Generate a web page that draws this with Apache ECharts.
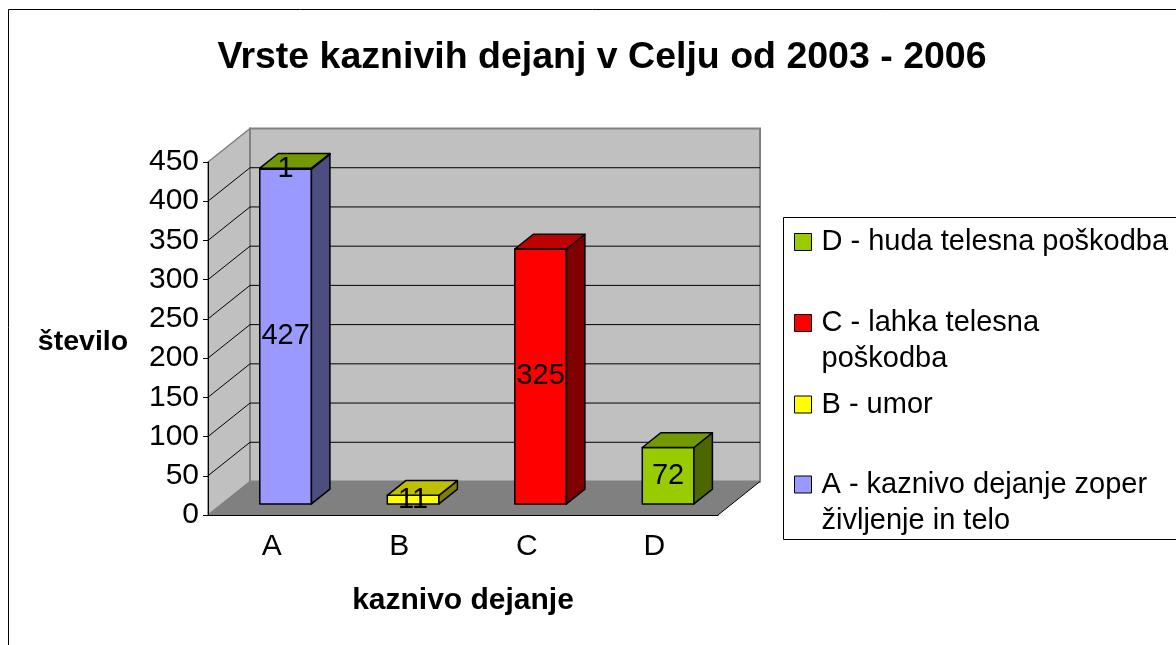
<!DOCTYPE html>
<html><head><meta charset="utf-8">
<script src="https://cdn.jsdelivr.net/npm/echarts@6/dist/echarts.min.js"></script>
<style>html,body{margin:0;padding:0;background:#fff}#c{width:1176px;height:645px}</style>
</head><body><div id="c"></div>
<script>
// ---- data ----
const categories = ['A', 'B', 'C', 'D'];
const seriesNames = ['A - kaznivo dejanje zoper\nživljenje in telo', 'B - umor', 'C - lahka telesna\npoškodba', 'D - huda telesna poškodba'];
const valuesA = [427, null, null, null];
const valuesB = [null, 11, null, null];
const valuesC = [null, null, 325, null];
const valuesD = [1, null, null, 72];
const yTicks = [0, 50, 100, 150, 200, 250, 300, 350, 400, 450];
const titleText = 'Vrste kaznivih dejanj v Celju od 2003 - 2006';
const yTitle = 'število';
const xTitle = 'kaznivo dejanje';

// ---- style ----
const FONT = '"Liberation Sans", Arial, sans-serif';
const DX = 42, DY = -33.5;      // full depth vector of the 3D box
const F0 = 0.33, F1 = 0.77;     // bar depth position (fraction)
const BAR_FRAC = 0.405;
const colors = [
  { front: '#9999ff', top: '#7373bf', side: '#4d4d80' },
  { front: '#ffff00', top: '#bfbf00', side: '#808000' },
  { front: '#ff0000', top: '#bf0000', side: '#800000' },
  { front: '#99cc00', top: '#739900', side: '#4d6600' }
];
const allValues = [valuesA, valuesB, valuesC, valuesD];

function buildData(si) {
  const out = [];
  allValues[si].forEach((v, ci) => {
    if (v == null) return;
    let base = 0;
    for (let k = 0; k < si; k++) base += allValues[k][ci] || 0;
    out.push([ci, base, v]);
  });
  return out;
}

function renderWalls(params, api) {
  const n = categories.length;
  const bw = api.size([1, 0])[0];
  const p0 = api.coord([0, yTicks[0]]);
  const left = p0[0] - bw / 2;
  const right = left + bw * n;
  const bottom = p0[1];
  const top = api.coord([0, yTicks[yTicks.length - 1]])[1];
  const ch = [];
  ch.push({ type: 'polygon', shape: { points: [[left, bottom], [left, top], [left + DX, top + DY], [left + DX, bottom + DY]] }, style: { fill: '#c0c0c0', stroke: '#808080', lineWidth: 1.5 } });
  ch.push({ type: 'polygon', shape: { points: [[left + DX, top + DY], [right + DX, top + DY], [right + DX, bottom + DY], [left + DX, bottom + DY]] }, style: { fill: '#c0c0c0', stroke: '#808080', lineWidth: 2 } });
  ch.push({ type: 'polygon', shape: { points: [[left, bottom], [right, bottom], [right + DX, bottom + DY], [left + DX, bottom + DY]] }, style: { fill: '#808080' } });
  yTicks.forEach((v, i) => {
    if (i === 0 || i === yTicks.length - 1) return;
    const y = api.coord([0, v])[1];
    ch.push({ type: 'polyline', shape: { points: [[left, y], [left + DX, y + DY], [right + DX, y + DY]] }, style: { stroke: '#000', lineWidth: 1, fill: null } });
  });
  ch.push({ type: 'line', shape: { x1: right, y1: bottom, x2: right + DX, y2: bottom + DY }, style: { stroke: '#000', lineWidth: 1 } });
  return { type: 'group', children: ch };
}

function barRenderer(si) {
  const c = colors[si];
  return function (params, api) {
    const cat = api.value(0), base = api.value(1), val = api.value(2);
    const bw = api.size([1, 0])[0];
    const pb = api.coord([cat, base]);
    const pt = api.coord([cat, base + val]);
    const half = bw * BAR_FRAC / 2;
    const x0 = pb[0] - half + DX * F0, x1 = pb[0] + half + DX * F0;
    const yb = pb[1] + DY * F0, yt = pt[1] + DY * F0;
    const ddx = DX * (F1 - F0), ddy = DY * (F1 - F0);
    const st = { stroke: '#000', lineWidth: 1.5, lineJoin: 'round' };
    return {
      type: 'group',
      children: [
        { type: 'polygon', shape: { points: [[x0, yt], [x1, yt], [x1, yb], [x0, yb]] }, style: Object.assign({ fill: c.front }, st) },
        { type: 'polygon', shape: { points: [[x1, yt], [x1 + ddx, yt + ddy], [x1 + ddx, yb + ddy], [x1, yb]] }, style: Object.assign({ fill: c.side }, st) },
        { type: 'polygon', shape: { points: [[x0, yt], [x1, yt], [x1 + ddx, yt + ddy], [x0 + ddx, yt + ddy]] }, style: Object.assign({ fill: c.top }, st) },
        { type: 'text', z2: 50, style: { text: String(val), x: (x0 + x1) / 2, y: (yt + yb) / 2, align: 'center', verticalAlign: 'middle', fontSize: 29, fontFamily: FONT, fill: '#000' } }
      ]
    };
  };
}

const series = [{
  type: 'custom', name: 'walls', silent: true, z: 1,
  renderItem: renderWalls, data: [[0, 0]], encode: { x: 0, y: 1 }
}];
for (let si = 0; si < 4; si++) {
  series.push({
    type: 'custom', name: seriesNames[si], z: 3,
    itemStyle: { color: colors[si].front },
    renderItem: barRenderer(si),
    data: buildData(si),
    encode: { x: 0, y: [1, 2] }
  });
}

const legendBase = {
  orient: 'vertical', left: 794, padding: 0, itemWidth: 17, itemHeight: 17, icon: 'rect',
  selectedMode: false,
  itemStyle: { borderColor: '#000', borderWidth: 1 }
};
function mkLegend(si, top, multi) {
  return Object.assign({}, legendBase, {
    top: top, data: [seriesNames[si]],
    formatter: multi ? function (name) { return '\n' + name; } : '{name}',
    textStyle: { fontSize: 29, lineHeight: 36, color: '#000', fontFamily: FONT, padding: [0, 0, 0, 5] }
  });
}

const chart = echarts.init(document.getElementById('c'), null, { renderer: 'canvas' });
chart.setOption({
  animation: false,
  backgroundColor: '#fff',
  textStyle: { fontFamily: FONT },
  grid: { left: 208, top: 162, width: 510, height: 353, containLabel: false },
  xAxis: {
    type: 'category', data: categories, z: 4,
    axisLine: { lineStyle: { color: '#000', width: 1 } },
    axisTick: { length: 5, lineStyle: { color: '#000' } },
    axisLabel: { fontSize: 30, color: '#000', margin: 17, fontFamily: FONT },
    splitLine: { show: false }
  },
  yAxis: {
    type: 'value', min: yTicks[0], max: yTicks[yTicks.length - 1], interval: yTicks[1] - yTicks[0], z: 4,
    axisLine: { show: true, lineStyle: { color: '#000', width: 1 } },
    axisTick: { show: true, length: 5, lineStyle: { color: '#000' } },
    axisLabel: { fontSize: 30, color: '#000', margin: 9, fontFamily: FONT },
    splitLine: { show: false }
  },
  legend: [
    mkLegend(3, 224, false),
    mkLegend(2, 269, true),
    mkLegend(1, 386.5, false),
    mkLegend(0, 430.5, true)
  ],
  graphic: [
    { type: 'rect', z: -10, silent: true, shape: { x: 8.5, y: 9.5, width: 1300, height: 800 }, style: { fill: '#fff', stroke: '#000', lineWidth: 1 } },
    { type: 'rect', z: 0, silent: true, shape: { x: 783.5, y: 217.5, width: 500, height: 322 }, style: { fill: '#fff', stroke: '#000', lineWidth: 1 } },
    { type: 'text', z: 10, style: { text: titleText, x: 602, y: 58, align: 'center', verticalAlign: 'middle', fontSize: 37.5, fontWeight: 'bold', fontFamily: FONT, fill: '#000' } },
    { type: 'text', z: 10, style: { text: yTitle, x: 83, y: 342, align: 'center', verticalAlign: 'middle', fontSize: 28.5, fontWeight: 'bold', fontFamily: FONT, fill: '#000' } },
    { type: 'text', z: 10, style: { text: xTitle, x: 463, y: 601, align: 'center', verticalAlign: 'middle', fontSize: 30, fontWeight: 'bold', fontFamily: FONT, fill: '#000' } }
  ],
  series: series
});
</script></body></html>
